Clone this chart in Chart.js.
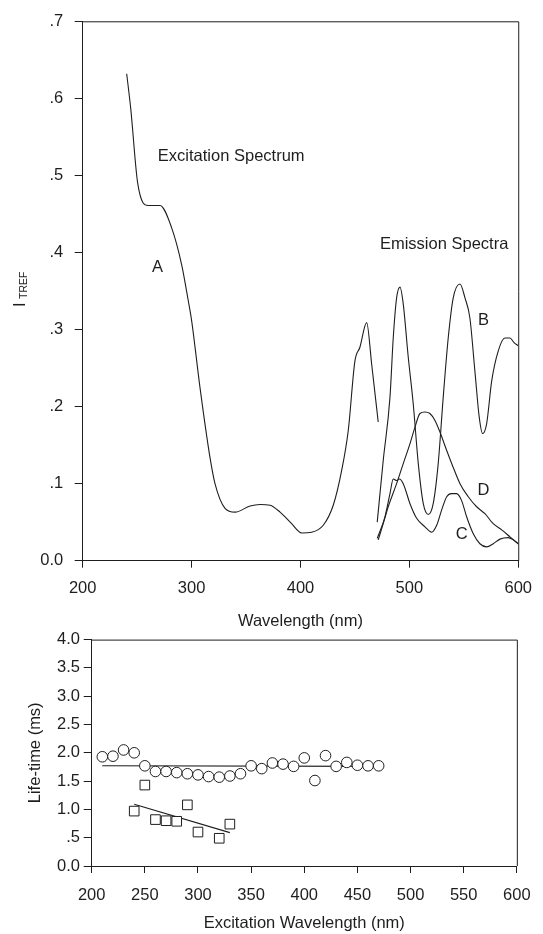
<!DOCTYPE html>
<html>
<head>
<meta charset="utf-8">
<script src="https://cdn.jsdelivr.net/npm/chart.js@4.4.1/dist/chart.umd.min.js"></script>
<style>
  body { margin: 0; background: #fff; }
  canvas { position: absolute; left: 0; }
  #topChart { top: 0; }
  #bottomChart { top: 626px; }
</style>
</head>
<body>
<canvas id="topChart" width="543" height="634"></canvas>
<canvas id="bottomChart" width="543" height="308"></canvas>
<script>
// --- top panel: excitation / emission spectra ---
const aWave = [240.4, 244.1, 250.5, 260.2, 271, 281.7, 290.9, 297, 300.1, 307.7, 316.9, 321.5, 330.7, 339.9, 353.7, 362.9, 372.1, 381.3, 391.9, 401.1, 410.3, 420.9, 430.1, 437.8, 443.9, 450, 454.6, 460.8, 465.4, 471.4];
const aInt = [0.632, 0.587, 0.49, 0.461, 0.461, 0.432, 0.384, 0.337, 0.311, 0.225, 0.134, 0.1, 0.068, 0.063, 0.071, 0.073, 0.072, 0.063, 0.048, 0.036, 0.037, 0.046, 0.072, 0.117, 0.169, 0.259, 0.277, 0.309, 0.255, 0.18];

const bWave = [470.5, 476, 482.2, 485.2, 488.3, 491.4, 494.4, 499, 503.6, 508.2, 512.8, 517.4, 521.9, 526.5, 531.1, 535.7, 540.3, 546.5, 551.1, 555.6, 560.2, 564.2, 567.3, 571, 575.6, 581.6, 587.8, 592.4, 596.1, 600];
const bInt = [0.05, 0.13, 0.212, 0.289, 0.341, 0.355, 0.333, 0.264, 0.203, 0.126, 0.074, 0.06, 0.074, 0.126, 0.212, 0.289, 0.341, 0.359, 0.341, 0.315, 0.246, 0.186, 0.165, 0.178, 0.233, 0.272, 0.289, 0.289, 0.283, 0.279];

const dWave = [471.4, 476, 480.6, 488.3, 494.4, 500.6, 505.1, 509.7, 514.3, 518.9, 523.5, 528.1, 534.3, 540.3, 546.5, 554.1, 561.8, 569.4, 577, 584.8, 592.4, 600];
const dInt = [0.027, 0.048, 0.07, 0.1, 0.126, 0.152, 0.173, 0.191, 0.193, 0.191, 0.182, 0.167, 0.143, 0.121, 0.1, 0.083, 0.07, 0.061, 0.048, 0.04, 0.031, 0.022];

const cWave = [470.5, 477.6, 482.2, 485.2, 488.3, 490.7, 494.4, 500.6, 506.7, 514.3, 520.5, 525.1, 529.7, 534.3, 538.8, 543.4, 548, 552.6, 558.7, 564.8, 571, 577, 583.2, 590.8, 595.4, 600];
const cInt = [0.029, 0.057, 0.087, 0.106, 0.104, 0.106, 0.1, 0.074, 0.055, 0.044, 0.037, 0.046, 0.066, 0.083, 0.087, 0.087, 0.078, 0.057, 0.035, 0.022, 0.018, 0.022, 0.028, 0.03, 0.027, 0.022];

const topXTicks = [200, 300, 400, 500, 600];
const topYTicks = [0, 0.1, 0.2, 0.3, 0.4, 0.5, 0.6, 0.7];
const topYTickLabels = ["0.0", ".1", ".2", ".3", ".4", ".5", ".6", ".7"];

const topNotes = [
  { text: "Excitation Spectrum", x: 269, y: 0.524, align: "left" },
  { text: "A", x: 268.7, y: 0.381, align: "center" },
  { text: "Emission Spectra", x: 473, y: 0.41, align: "left" },
  { text: "B", x: 568, y: 0.312, align: "center" },
  { text: "D", x: 568, y: 0.091, align: "center" },
  { text: "C", x: 548, y: 0.034, align: "center" },
];

// --- bottom panel: life-times ---
const circleWave = [210, 220, 230, 240, 250, 260, 270, 280, 290, 300, 310, 320, 330, 340, 350, 360, 370, 380, 390, 400, 410, 420, 430, 440, 450, 460, 470];
const circleLife = [1.93, 1.94, 2.05, 2.0, 1.77, 1.67, 1.67, 1.65, 1.63, 1.61, 1.58, 1.57, 1.59, 1.63, 1.77, 1.72, 1.82, 1.8, 1.76, 1.91, 1.51, 1.95, 1.76, 1.83, 1.78, 1.77, 1.77];
const squareWave = [240, 250, 260, 270, 280, 290, 300, 320, 330];
const squareLife = [0.97, 1.43, 0.82, 0.8, 0.79, 1.08, 0.6, 0.49, 0.74];
const circleFitWave = [210, 470];
const circleFitLife = [1.77, 1.76];
const squareFitWave = [240, 330];
const squareFitLife = [1.09, 0.59];

const bottomXTicks = [200, 250, 300, 350, 400, 450, 500, 550, 600];
const bottomYTicks = [0, 0.5, 1, 1.5, 2, 2.5, 3, 3.5, 4];
const bottomYTickLabels = ["0.0", ".5", "1.0", "1.5", "2.0", "2.5", "3.0", "3.5", "4.0"];

const INK = "#1e1e1e";
const FONT = "'Liberation Sans', Arial, sans-serif";
const font = { family: FONT, size: 16.5 };

const zip = (xs, ys) => xs.map((x, i) => ({ x: x, y: ys[i] }));

function lineSet(xs, ys) {
  return {
    data: zip(xs, ys),
    borderColor: INK,
    borderWidth: 1.1,
    pointRadius: 0,
    cubicInterpolationMode: "monotone",
    fill: false,
  };
}

function axis(min, max, tickValues, labelFn, tickPad, fitSize, horizontal, title, titlePad) {
  return {
    type: "linear",
    min: min,
    max: max,
    afterBuildTicks: (s) => {
      s.ticks = tickValues.map((v) => ({ value: v }));
    },
    afterFit: (s) => {
      if (horizontal) s.height = fitSize;
      else s.width = fitSize;
    },
    ticks: {
      font: font,
      color: INK,
      padding: tickPad,
      maxRotation: 0,
      autoSkip: false,
      callback: labelFn,
    },
    grid: {
      display: true,
      drawOnChartArea: false,
      drawTicks: true,
      tickLength: horizontal ? 7 : 8,
      color: INK,
      lineWidth: 1,
    },
    border: { display: true, color: INK, width: 1 },
    title: {
      display: !!title,
      text: title || "",
      font: font,
      color: INK,
      padding: titlePad || 0,
    },
  };
}

// box top and right edges
const framePlugin = {
  id: "frame",
  afterDraw(chart) {
    const { ctx, chartArea: a } = chart;
    ctx.save();
    ctx.strokeStyle = INK;
    ctx.lineWidth = 1;
    ctx.beginPath();
    ctx.moveTo(a.left, a.top + 0.5);
    ctx.lineTo(a.right + 0.5, a.top + 0.5);
    ctx.lineTo(a.right + 0.5, a.bottom);
    ctx.stroke();
    ctx.restore();
  },
};

const notesPlugin = {
  id: "notes",
  afterDatasetsDraw(chart) {
    const { ctx, scales } = chart;
    ctx.save();
    ctx.fillStyle = INK;
    ctx.font = `${font.size}px ${FONT}`;
    ctx.textBaseline = "middle";
    topNotes.forEach((n) => {
      ctx.textAlign = n.align;
      ctx.fillText(n.text, scales.x.getPixelForValue(n.x), scales.y.getPixelForValue(n.y));
    });

    // y title with subscript: I_TREF
    ctx.translate(25, 307);
    ctx.rotate(-Math.PI / 2);
    ctx.textAlign = "left";
    ctx.textBaseline = "alphabetic";
    ctx.fillText("I", 0, 0);
    ctx.font = `10.5px ${FONT}`;
    ctx.fillText("TREF", 8, 2);
    ctx.restore();
  },
};

new Chart(document.getElementById("topChart"), {
  type: "line",
  data: {
    datasets: [
      lineSet(aWave, aInt),
      lineSet(bWave, bInt),
      lineSet(dWave, dInt),
      lineSet(cWave, cInt),
    ],
  },
  options: {
    responsive: false,
    animation: false,
    layout: { padding: { top: 19, right: 24.5, bottom: 0, left: 0 } },
    plugins: { legend: { display: false }, tooltip: { enabled: false } },
    scales: {
      x: axis(200, 600, topXTicks, (v) => String(v), 11, 73.3, true, "Wavelength (nm)", { top: 0, bottom: 2.7 }),
      y: axis(0, 0.7, topYTicks, (v, i) => topYTickLabels[i], 11.4, 82.7, false),
    },
  },
  plugins: [framePlugin, notesPlugin],
});

new Chart(document.getElementById("bottomChart"), {
  type: "scatter",
  data: {
    datasets: [
      {
        data: zip(circleWave, circleLife),
        pointStyle: "circle",
        pointRadius: 5.3,
        pointBackgroundColor: "#fff",
        pointBorderColor: INK,
        pointBorderWidth: 1,
      },
      {
        data: zip(squareWave, squareLife),
        pointStyle: "rect",
        pointRadius: 6.8,
        pointBackgroundColor: "#fff",
        pointBorderColor: INK,
        pointBorderWidth: 1,
      },
      {
        data: zip(circleFitWave, circleFitLife),
        showLine: true,
        borderColor: INK,
        borderWidth: 1.1,
        pointRadius: 0,
      },
      {
        data: zip(squareFitWave, squareFitLife),
        showLine: true,
        borderColor: INK,
        borderWidth: 1.1,
        pointRadius: 0,
      },
    ],
  },
  options: {
    responsive: false,
    animation: false,
    layout: { padding: { top: 8.3, right: 15, bottom: 0, left: 0 } },
    plugins: { legend: { display: false }, tooltip: { enabled: false } },
    scales: {
      x: axis(200, 600, bottomXTicks, (v) => String(v), 12.4, 68, true, "Excitation Wavelength (nm)", { top: 0, bottom: 1 }),
      y: axis(0, 4, bottomYTicks, (v, i) => bottomYTickLabels[i], 3.7, 91.7, false, "Life-time (ms)", { top: 26, bottom: 0 }),
    },
  },
  plugins: [framePlugin],
});
</script>
</body>
</html>
